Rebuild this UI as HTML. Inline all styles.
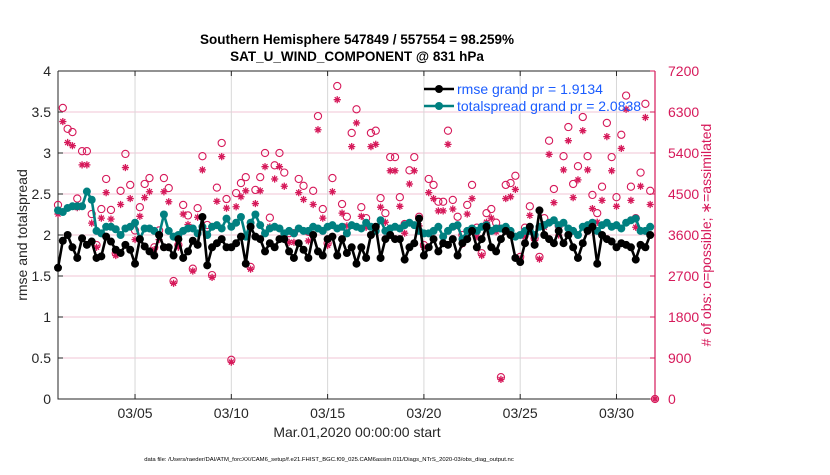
<!DOCTYPE html>
<html><head><meta charset="utf-8"><style>
body{margin:0;background:#fff;width:830px;height:470px;overflow:hidden;font-family:"Liberation Sans",sans-serif}
</style></head><body>
<svg id="chart" width="830" height="470" xmlns="http://www.w3.org/2000/svg" font-family="Liberation Sans, sans-serif"></svg>
<script>
const xTickLabels=["03/05","03/10","03/15","03/20","03/25","03/30"];
const xTickDays=[4,9,14,19,24,29];
const yLeftTicks=[0,0.5,1,1.5,2,2.5,3,3.5,4];
const yRightTicks=[0,900,1800,2700,3600,4500,5400,6300,7200];
const rmse=[1.6,1.93,2.0,1.85, 1.72,1.96,1.88,1.92, 1.72,1.74,1.98,1.92, 1.82,1.78,1.88,1.82, 1.65,1.95,1.86,1.8, 1.75,2.0,1.85,1.85, 1.75,1.95,1.72,1.8, 1.93,1.88,2.22,1.63,
1.85,1.9,1.95,1.85, 1.85,1.9,1.98,1.65, 2.1,1.98,1.95,1.8, 1.9,1.85,1.95,1.95, 1.8,1.72,1.9,1.82, 1.72,2.0,1.8,1.75, 1.95,1.98,1.75,1.95, 1.78,1.85,1.65,1.85,
1.72,2.0,2.1,1.72, 1.95,2.0,1.95,1.95, 1.7,1.85,1.9,2.2, 1.75,1.85,1.95,1.8, 1.9,1.88,1.95,1.75, 1.9,1.95,2.05,1.85, 1.95,2.1,1.85,1.8, 1.95,2.05,2.0,1.72,
1.67,1.9,2.1,1.88, 2.3,2.0,1.95,1.9, 2.05,1.9,2.0,1.85, 1.72,1.9,2.05,2.1, 1.65,2.0,1.95,1.92, 1.85,1.9,1.88,1.85, 1.7,1.88,1.85,2.0];
const spread=[2.3,2.28,2.33,2.35, 2.35,2.35,2.53,2.43, 2.05,2.02,2.1,2.1, 2.07,2.0,2.08,2.1, 2.15,1.95,2.08,2.08, 2.05,2.0,2.25,2.05, 1.98,2.0,2.05,2.08, 2.08,2.02,2.1,2.0,
2.1,2.12,2.08,2.2, 2.1,2.15,2.22,1.98, 2.15,2.25,2.12,2.02, 2.08,2.1,2.08,2.02, 2.05,2.02,2.08,2.05, 2.05,2.1,2.08,2.05, 2.1,2.12,2.08,2.1, 2.02,2.12,2.1,2.08,
2.15,2.1,2.05,2.18, 2.05,2.08,2.1,2.08, 2.12,2.15,2.12,2.05, 2.02,2.02,2.05,2.1, 1.98,2.05,2.1,2.12, 1.95,2.05,2.08,2.05, 2.1,2.12,2.05,2.08, 2.08,2.1,2.05,1.98,
2.0,2.05,2.05,2.0, 2.1,2.12,2.15,2.18, 2.12,2.15,2.08,2.05, 2.0,2.1,2.12,2.15, 2.05,2.12,2.15,2.1, 2.12,2.08,2.15,2.18, 2.2,2.05,2.05,2.1];
const nPossible=[4260,6390,5930,5860,4400,5440,5440,4060,3380,4170,4830,4150,3200,4570,5380,4700,3700,4210,4720,4850,3330,3700,4850,4630,2590,3380,4260,4030,2860,4190,5330,3820,2720,4640,5620,4390,860,4520,4740,4870,2900,4590,4870,5400,3980,5130,5400,4970,3640,3640,4830,4680,3670,4570,6210,4170,3420,4850,6870,4280,4000,5840,6360,4210,3970,5840,5890,4410,4080,5310,5310,4430,3840,5020,5310,4000,3380,4830,4700,4330,4330,5890,4370,4000,3600,4260,4700,3760,3200,4080,4170,3870,480,4700,4740,4900,3120,3760,4230,3530,3120,3970,5670,4610,3800,5330,5970,4720,5110,6190,5330,4480,4080,4660,6060,5310,4430,5800,6660,4660,3970,4970,6480,4570,0];
const nAssim=[4060,6090,5630,5560,4200,5140,5140,3860,3330,3970,4530,3950,3150,4270,5080,4400,3500,4010,4420,4550,3280,3500,4550,4330,2540,3330,4060,3830,2810,3990,5030,3620,2670,4340,5320,4190,810,4220,4440,4570,2850,4290,4570,5100,3780,4830,5100,4670,3440,3440,4530,4380,3470,4270,5910,3970,3370,4550,6570,4080,3800,5540,6060,4010,3770,5540,5590,4210,3880,5010,5010,4230,3640,4720,5010,3800,3330,4530,4400,4130,4130,5590,4170,3800,3400,4060,4400,3560,3150,3880,3970,3670,430,4400,4440,4600,3070,3560,4030,3480,3070,3770,5370,4310,3600,5030,5670,4420,4810,5890,5030,4180,3880,4360,5760,5010,4230,5500,6360,4360,3770,4670,6180,4270,0];
const stepDays=[0.25];

const svg=document.getElementById('chart');
const NS='http://www.w3.org/2000/svg';
const L=58,R=655,T=71,B=399;
const xs=d=>L+(d/31)*(R-L);
const yl=v=>B-(v/4)*(B-T);
const yr=c=>B-(c/7200)*(B-T);
function el(tag,attrs,parent){const e=document.createElementNS(NS,tag);for(const k in attrs)e.setAttribute(k,attrs[k]);(parent||svg).appendChild(e);return e;}
function txt(s,attrs){const e=el('text',attrs);e.textContent=s;return e;}

yRightTicks.forEach((c,i)=>{if(i>0&&i<yRightTicks.length-1){const g=el('line',{x1:L,x2:R,y1:yr(c),y2:yr(c),stroke:'#f2c6d6','stroke-width':1});

}});
xTickDays.forEach(d=>{const g=el('line',{x1:xs(d),x2:xs(d),y1:T,y2:B,stroke:'#d8d8d8','stroke-width':1});

});

const frame=el('path',{d:`M${L},${T}H${R}M${L},${T}V${B}H${R}`,stroke:'#262626',fill:'none','stroke-width':1});


const ra=el('line',{x1:R,x2:R,y1:T,y2:B,stroke:'#d6195a','stroke-width':1.2});



yLeftTicks.forEach(v=>{const y=yl(v);
el('line',{x1:L,x2:L+5,y1:y,y2:y,stroke:'#262626'});
const t=txt(String(v),{x:L-7,y:y+5,'text-anchor':'end','font-size':14,fill:'#262626'});

});
yRightTicks.forEach(c=>{const y=yr(c);
el('line',{x1:R-5,x2:R,y1:y,y2:y,stroke:'#d6195a'});
const t=txt(String(c),{x:R+13,y:y+5,'font-size':14,fill:'#d6195a'});

});
xTickDays.forEach((d,i)=>{const x=xs(d);
el('line',{x1:x,x2:x,y1:B,y2:B-5,stroke:'#262626'});
el('line',{x1:x,x2:x,y1:T,y2:T+5,stroke:'#262626'});
const t=txt(xTickLabels[i],{x:x,y:B+19,'text-anchor':'middle','font-size':14,fill:'#262626'});

});

nPossible.forEach((c,i)=>{const x=xs(i*stepDays[0]),y=yr(c);
const m=el('circle',{cx:x,cy:y,r:3.6,fill:'none',stroke:'#d6195a','stroke-width':1.1});

});
nAssim.forEach((c,i)=>{const x=xs(i*stepDays[0]),y=yr(c);
const s=3.6,d=2.5;
const m=el('path',{d:`M${x-s},${y}H${x+s}M${x},${y-s}V${y+s}M${x-d},${y-d}L${x+d},${y+d}M${x-d},${y+d}L${x+d},${y-d}`,stroke:'#d6195a','stroke-width':1.3,fill:'none'});

});

function series(vals,color,name){
const pts=vals.map((v,i)=>xs(i*stepDays[0]).toFixed(1)+','+yl(v).toFixed(1)).join(' ');
const pl=el('polyline',{points:pts,fill:'none',stroke:color,'stroke-width':2.6,'stroke-linejoin':'round'});


vals.forEach((v,i)=>{const c=el('circle',{cx:xs(i*stepDays[0]),cy:yl(v),r:4,fill:color});

});}
series(spread,'#008080','totalspread');
series(rmse,'#000000','rmse');

const lg=el('g',{});


[['rmse grand pr = 1.9134','#000',89],['totalspread grand pr = 2.0838','#008080',106]].forEach(([s,c,y])=>{
el('line',{x1:424,x2:454,y1:y,y2:y,stroke:c,'stroke-width':2.6},lg);
el('circle',{cx:439,cy:y,r:4,fill:c},lg);
const t=el('text',{x:457,y:y+5,'font-size':14,fill:'#1a5cff'},lg);t.textContent=s;

});

let t=txt('Southern Hemisphere 547849 / 557554 = 98.259%',{x:357,y:44,'text-anchor':'middle','font-size':13.5,'font-weight':'bold',fill:'#000'});


t=txt('SAT_U_WIND_COMPONENT @ 831 hPa',{x:357,y:61,'text-anchor':'middle','font-size':13.5,'font-weight':'bold',fill:'#000'});


t=txt('rmse and totalspread',{x:0,y:0,'text-anchor':'middle','font-size':14,fill:'#262626',transform:'translate(27,235) rotate(-90)'});


t=txt('# of obs: o=possible; \u2217=assimilated',{x:0,y:0,'text-anchor':'middle','font-size':14,fill:'#d6195a',transform:'translate(711,235) rotate(-90)'});


t=txt('Mar.01,2020 00:00:00 start',{x:357,y:437,'text-anchor':'middle','font-size':14,fill:'#262626'});


t=txt('data file: /Users/raeder/DAI/ATM_forcXX/CAM6_setup/f.e21.FHIST_BGC.f09_025.CAM6assim.011/Diags_NTrS_2020-03/obs_diag_output.nc',{x:329,y:461,'text-anchor':'middle','font-size':5.9,fill:'#000'});


</script>
</body></html>
